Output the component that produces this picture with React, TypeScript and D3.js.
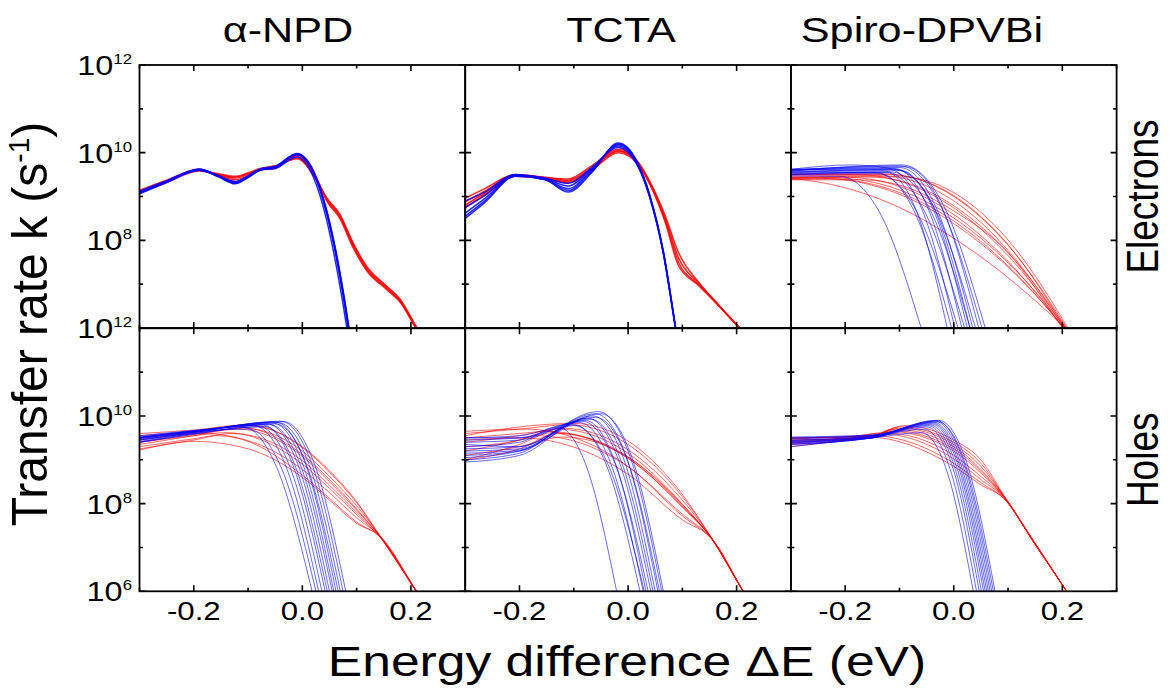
import React from "react";
import * as d3 from "d3";

type Knot = [number, number]; // [ΔE (eV), log10 k]

// ---------- labels and ticks ----------
const columnTitles = ["α-NPD", "TCTA", "Spiro-DPVBi"];
const columnTitleX = [288, 621, 922];
const rowTitles = ["Electrons", "Holes"];
const xTicks = [-0.2, 0.0, 0.2];
const xMinorTicks = [-0.3, -0.1, 0.1, 0.3];
const yTickExps = [6, 8, 10, 12];
const yMinorExps = [7, 9, 11];
const yLabelExpsTop = [12, 10, 8];
const yLabelExpsBottom = [12, 10, 8, 6];

// ---------- α-NPD, electrons (values on shared grids) ----------
const npdElecRedGrid = [-0.3, -0.25, -0.19, -0.155, -0.124, -0.1, -0.078, -0.05, -0.01, 0.027, 0.045, 0.069, 0.094, 0.119, 0.155, 0.18, 0.208, 0.23];
const npdElecRed = [
  [9.11, 9.34, 9.6, 9.5, 9.42, 9.5, 9.62, 9.66, 9.92, 9.38, 8.92, 8.54, 7.86, 7.33, 6.91, 6.61, 6.04, 5.6],
  [9.08, 9.32, 9.58, 9.52, 9.46, 9.52, 9.62, 9.68, 9.88, 9.36, 8.95, 8.57, 7.9, 7.37, 6.94, 6.63, 6.05, 5.6],
  [9.14, 9.37, 9.62, 9.48, 9.38, 9.47, 9.6, 9.64, 9.95, 9.4, 8.9, 8.5, 7.82, 7.3, 6.88, 6.59, 6.02, 5.6],
  [9.1, 9.35, 9.61, 9.5, 9.44, 9.54, 9.64, 9.7, 9.86, 9.35, 8.97, 8.6, 7.93, 7.4, 6.96, 6.66, 6.07, 5.6],
];
const npdElecBlueGrid = [-0.3, -0.25, -0.19, -0.155, -0.124, -0.1, -0.078, -0.05, -0.01, 0.02, 0.045, 0.065, 0.085, 0.1];
const npdElecBlue = [
  [9.09, 9.34, 9.62, 9.47, 9.32, 9.45, 9.62, 9.67, 9.97, 9.58, 8.65, 7.52, 6.04, 4.71],
  [9.06, 9.32, 9.6, 9.46, 9.3, 9.43, 9.6, 9.66, 9.95, 9.55, 8.6, 7.45, 5.95, 4.6],
  [9.12, 9.36, 9.63, 9.48, 9.34, 9.47, 9.63, 9.69, 9.98, 9.6, 8.68, 7.56, 6.08, 4.75],
  [9.1, 9.35, 9.6, 9.47, 9.33, 9.46, 9.6, 9.64, 9.9, 9.45, 8.45, 7.25, 5.75, 4.4],
  [9.08, 9.33, 9.61, 9.45, 9.29, 9.44, 9.61, 9.67, 9.96, 9.57, 8.63, 7.5, 6.02, 4.7],
];

// ---------- TCTA, electrons ----------
const tctaElecRedGrid = [-0.3, -0.264, -0.208, -0.153, -0.11, -0.067, -0.018, 0.019, 0.044, 0.068, 0.093, 0.129, 0.16, 0.2, 0.23];
const tctaElecRed = [
  [8.96, 9.18, 9.5, 9.44, 9.4, 9.7, 10.08, 9.78, 9.25, 8.58, 7.72, 7.06, 6.62, 6.08, 5.7],
  [8.88, 9.12, 9.49, 9.43, 9.37, 9.66, 10.05, 9.76, 9.22, 8.52, 7.6, 7.03, 6.61, 6.08, 5.7],
  [8.8, 9.08, 9.47, 9.42, 9.34, 9.63, 10.03, 9.74, 9.2, 8.47, 7.5, 7.0, 6.6, 6.07, 5.7],
  [8.74, 9.04, 9.46, 9.41, 9.31, 9.6, 10.0, 9.72, 9.18, 8.43, 7.42, 6.98, 6.6, 6.07, 5.7],
];
const tctaElecBlueGrid = [-0.3, -0.264, -0.208, -0.153, -0.11, -0.067, -0.018, 0.015, 0.04, 0.065, 0.087, 0.105];
const tctaElecBlue = [
  [8.9, 9.1, 9.5, 9.42, 9.3, 9.66, 10.12, 9.76, 8.98, 7.7, 6.02, 4.6],
  [8.75, 9.02, 9.49, 9.41, 9.24, 9.63, 10.15, 9.78, 8.99, 7.71, 6.03, 4.6],
  [8.62, 8.95, 9.48, 9.4, 9.18, 9.6, 10.18, 9.8, 9.0, 7.72, 6.04, 4.6],
  [8.55, 8.9, 9.47, 9.39, 9.14, 9.57, 10.2, 9.82, 9.02, 7.74, 6.05, 4.6],
  [8.5, 8.86, 9.46, 9.38, 9.1, 9.54, 10.22, 9.84, 9.04, 7.76, 6.06, 4.6],
];

// ---------- Spiro-DPVBi, electrons (knots) ----------
const spiroElecRed: Knot[][] = [
  [[-0.3, 9.52], [-0.12, 9.5], [0, 9.02], [0.1, 7.9], [0.205, 6], [0.245, 5.14]],
  [[-0.3, 9.47], [-0.14, 9.48], [0, 8.9], [0.1, 7.77], [0.203, 6], [0.243, 5.19]],
  [[-0.3, 9.44], [-0.16, 9.45], [-0.1, 9.36], [0, 8.79], [0.1, 7.72], [0.207, 6], [0.247, 5.25]],
  [[-0.3, 9.5], [-0.18, 9.5], [-0.1, 9.35], [0, 8.74], [0.1, 7.65], [0.205, 6], [0.245, 5.27]],
  [[-0.3, 9.43], [-0.2, 9.44], [-0.1, 9.23], [0, 8.59], [0.1, 7.52], [0.202, 6], [0.242, 5.32]],
  [[-0.3, 9.41], [-0.22, 9.42], [-0.1, 9.15], [0, 8.51], [0.1, 7.49], [0.206, 6], [0.246, 5.36]],
  [[-0.3, 9.41], [-0.25, 9.42], [-0.1, 9.05], [0, 8.38], [0.1, 7.39], [0.204, 6], [0.244, 5.4]],
  [[-0.3, 9.42], [-0.2, 9.2], [-0.1, 8.75], [0, 8.05], [0.1, 7.15], [0.205, 6], [0.245, 5.52]],
  [[-0.3, 9.44], [-0.1, 9.45], [0, 9.09], [0.1, 8.01], [0.21, 6], [0.25, 5.11]],
  [[-0.3, 9.5], [-0.13, 9.52], [0, 9.0], [0.1, 7.89], [0.208, 6], [0.248, 5.17]],
  [[-0.3, 9.38], [-0.17, 9.38], [-0.1, 9.26], [0, 8.67], [0.1, 7.72], [0.2, 6], [0.24, 5.27]],
  [[-0.3, 9.39], [-0.23, 9.4], [-0.1, 9.09], [0, 8.44], [0.1, 7.42], [0.203, 6], [0.243, 5.37]],
];
const spiroElecBlue: Knot[][] = [
  [[-0.3, 9.47], [-0.21, 9.46], [-0.135, 8.6], [-0.06, 6]],
  [[-0.3, 9.55], [-0.125, 9.55], [-0.0685, 8.66], [-0.012, 6]],
  [[-0.3, 9.5], [-0.14, 9.52], [-0.072, 8.64], [-0.004, 6]],
  [[-0.3, 9.62], [-0.12, 9.62], [-0.059, 8.72], [0.002, 6]],
  [[-0.3, 9.52], [-0.145, 9.55], [-0.0685, 8.66], [0.008, 6]],
  [[-0.3, 9.6], [-0.11, 9.64], [-0.0475, 8.73], [0.015, 6]],
  [[-0.3, 9.56], [-0.13, 9.58], [-0.055, 8.69], [0.02, 6]],
  [[-0.3, 9.58], [-0.1, 9.6], [-0.0375, 8.7], [0.025, 6]],
  [[-0.3, 9.5], [-0.115, 9.56], [-0.0425, 8.67], [0.03, 6]],
  [[-0.3, 9.6], [-0.1, 9.66], [-0.0325, 8.75], [0.035, 6]],
  [[-0.3, 9.55], [-0.11, 9.62], [-0.035, 8.72], [0.04, 6]],
  [[-0.3, 9.62], [-0.09, 9.68], [-0.022, 8.76], [0.046, 6]],
  [[-0.3, 9.6], [-0.1, 9.7], [-0.024, 8.78], [0.052, 6]],
  [[-0.3, 9.58], [-0.095, 9.72], [-0.0185, 8.79], [0.058, 6]],
  [[-0.3, 9.62], [-0.19, 9.72], [-0.1, 9.6], [-0.035, 8.7], [0.03, 6]],
];

// ---------- α-NPD, holes ----------
const npdHoleRed: Knot[][] = [
  [[-0.3, 9.45], [-0.2, 9.62], [-0.1, 9.78], [0, 9.3], [0.05, 8.75], [0.1, 8.05], [0.144, 7.24], [0.21, 6], [0.24, 5.44]],
  [[-0.3, 9.35], [-0.2, 9.55], [-0.11, 9.72], [0, 9.2], [0.05, 8.62], [0.1, 7.95], [0.144, 7.25], [0.21, 6.02], [0.24, 5.46]],
  [[-0.3, 9.55], [-0.2, 9.65], [-0.12, 9.75], [0, 9.12], [0.05, 8.55], [0.1, 7.88], [0.144, 7.23], [0.21, 6], [0.24, 5.44]],
  [[-0.3, 9.25], [-0.2, 9.45], [-0.13, 9.6], [0, 8.98], [0.05, 8.42], [0.1, 7.8], [0.144, 7.24], [0.21, 6.01], [0.24, 5.45]],
  [[-0.3, 9.4], [-0.2, 9.55], [-0.14, 9.62], [0, 8.9], [0.05, 8.35], [0.1, 7.75], [0.144, 7.22], [0.21, 5.99], [0.24, 5.43]],
  [[-0.3, 9.3], [-0.2, 9.48], [-0.16, 9.55], [0, 8.78], [0.05, 8.25], [0.1, 7.68], [0.144, 7.24], [0.21, 6], [0.24, 5.44]],
  [[-0.3, 9.5], [-0.18, 9.6], [-0.1, 9.42], [0, 8.65], [0.05, 8.12], [0.1, 7.58], [0.144, 7.23], [0.21, 6], [0.24, 5.44]],
  [[-0.3, 9.22], [-0.2, 9.42], [-0.1, 9.25], [0, 8.6], [0.05, 8.08], [0.1, 7.55], [0.144, 7.25], [0.21, 6.01], [0.24, 5.45]],
  [[-0.3, 9.6], [-0.2, 9.68], [-0.1, 9.8], [0, 9.28], [0.05, 8.72], [0.1, 8.02], [0.144, 7.24], [0.21, 6], [0.24, 5.44]],
  [[-0.3, 9.4], [-0.2, 9.58], [-0.12, 9.7], [0, 9.08], [0.05, 8.5], [0.1, 7.85], [0.144, 7.24], [0.21, 6], [0.24, 5.44]],
];
const npdHoleBlue: Knot[][] = [
  [[-0.3, 9.45], [-0.2, 9.62], [-0.112, 9.76], [-0.047, 8.82], [0.018, 6]],
  [[-0.3, 9.5], [-0.2, 9.64], [-0.1, 9.7], [-0.0375, 8.78], [0.025, 6]],
  [[-0.3, 9.5], [-0.2, 9.65], [-0.09, 9.78], [-0.03, 8.84], [0.03, 6]],
  [[-0.3, 9.4], [-0.2, 9.6], [-0.08, 9.75], [-0.022, 8.81], [0.036, 6]],
  [[-0.3, 9.52], [-0.2, 9.66], [-0.075, 9.8], [-0.0165, 8.85], [0.042, 6]],
  [[-0.3, 9.42], [-0.2, 9.6], [-0.07, 9.76], [-0.012, 8.82], [0.046, 6]],
  [[-0.3, 9.48], [-0.2, 9.64], [-0.065, 9.82], [-0.0075, 8.87], [0.05, 6]],
  [[-0.3, 9.55], [-0.2, 9.67], [-0.06, 9.8], [-0.0025, 8.85], [0.055, 6]],
  [[-0.3, 9.45], [-0.2, 9.62], [-0.055, 9.84], [0.0015, 8.88], [0.058, 6]],
  [[-0.3, 9.5], [-0.2, 9.64], [-0.05, 9.86], [0.006, 8.9], [0.062, 6]],
  [[-0.3, 9.4], [-0.2, 9.58], [-0.05, 9.82], [0.008, 8.87], [0.066, 6]],
  [[-0.3, 9.52], [-0.2, 9.66], [-0.045, 9.85], [0.0125, 8.89], [0.07, 6]],
  [[-0.3, 9.47], [-0.2, 9.63], [-0.04, 9.88], [0.0175, 8.91], [0.075, 6]],
  [[-0.3, 9.5], [-0.2, 9.65], [-0.035, 9.87], [0.0225, 8.9], [0.08, 6]],
];

// ---------- TCTA, holes ----------
const tctaHoleRed: Knot[][] = [
  [[-0.3, 9.6], [-0.2, 9.7], [-0.11, 9.8], [0, 9.35], [0.1, 8.16], [0.156, 7.17], [0.212, 6], [0.24, 5.44]],
  [[-0.3, 9.4], [-0.2, 9.55], [-0.12, 9.72], [0, 9.23], [0.1, 8.08], [0.156, 7.18], [0.212, 6.01], [0.24, 5.45]],
  [[-0.3, 9.2], [-0.2, 9.45], [-0.13, 9.7], [0, 9.15], [0.1, 7.99], [0.156, 7.16], [0.212, 6], [0.24, 5.44]],
  [[-0.3, 9.0], [-0.2, 9.35], [-0.14, 9.62], [0, 9.04], [0.1, 7.92], [0.156, 7.17], [0.212, 6], [0.24, 5.44]],
  [[-0.3, 9.5], [-0.2, 9.6], [-0.15, 9.65], [0, 9.03], [0.1, 7.93], [0.156, 7.18], [0.212, 6.01], [0.24, 5.45]],
  [[-0.3, 9.3], [-0.2, 9.45], [-0.17, 9.55], [0, 8.84], [0.1, 7.76], [0.156, 7.17], [0.212, 6], [0.24, 5.44]],
  [[-0.3, 9.65], [-0.19, 9.7], [-0.1, 9.51], [0, 8.85], [0.1, 7.72], [0.156, 7.16], [0.212, 6], [0.24, 5.44]],
  [[-0.3, 9.1], [-0.2, 9.3], [-0.12, 9.52], [0, 9.06], [0.1, 7.98], [0.156, 7.17], [0.212, 6], [0.24, 5.44]],
  [[-0.3, 9.45], [-0.2, 9.5], [-0.1, 9.29], [0, 8.67], [0.1, 7.63], [0.156, 7.18], [0.212, 6.01], [0.24, 5.45]],
  [[-0.3, 9.55], [-0.2, 9.75], [-0.1, 9.83], [0, 9.43], [0.1, 8.21], [0.156, 7.17], [0.212, 6], [0.24, 5.44]],
  [[-0.3, 8.99], [-0.2, 9.25], [-0.13, 9.6], [0, 9.07], [0.1, 7.95], [0.156, 7.17], [0.212, 6], [0.24, 5.44]],
];
const tctaHoleBlue: Knot[][] = [
  [[-0.3, 9.3], [-0.2, 9.4], [-0.13, 9.75], [-0.0755, 8.81], [-0.021, 6]],
  [[-0.3, 9.0], [-0.2, 9.15], [-0.1, 9.8], [-0.039, 8.85], [0.022, 6]],
  [[-0.3, 9.5], [-0.2, 9.55], [-0.09, 9.85], [-0.031, 8.89], [0.028, 6]],
  [[-0.3, 9.1], [-0.2, 9.2], [-0.08, 9.9], [-0.0235, 8.93], [0.033, 6]],
  [[-0.3, 9.35], [-0.2, 9.3], [-0.085, 9.88], [-0.024, 8.91], [0.037, 6]],
  [[-0.3, 8.95], [-0.2, 9.1], [-0.075, 9.95], [-0.0165, 8.96], [0.042, 6]],
  [[-0.3, 9.4], [-0.2, 9.45], [-0.07, 9.93], [-0.012, 8.95], [0.046, 6]],
  [[-0.3, 9.2], [-0.2, 9.25], [-0.065, 10.0], [-0.0075, 9.0], [0.05, 6]],
  [[-0.3, 9.05], [-0.2, 9.2], [-0.06, 10.05], [-0.0025, 9.04], [0.055, 6]],
  [[-0.3, 9.45], [-0.2, 9.5], [-0.06, 9.97], [-0.001, 8.98], [0.058, 6]],
  [[-0.3, 9.25], [-0.2, 9.3], [-0.055, 10.1], [0.0035, 9.08], [0.062, 6]],
  [[-0.3, 9.15], [-0.2, 9.22], [-0.05, 10.05], [0.0075, 9.04], [0.065, 6]],
  [[-0.3, 9.5], [-0.2, 9.5], [-0.1, 9.78], [-0.035, 8.84], [0.03, 6]],
];

// ---------- Spiro-DPVBi, holes ----------
const spiroHoleRed: Knot[][] = [
  [[-0.3, 9.5], [-0.15, 9.55], [-0.1, 9.75], [0, 9.4], [0.05, 8.92], [0.092, 8.18], [0.15, 7.09], [0.208, 6], [0.24, 5.4]],
  [[-0.3, 9.4], [-0.15, 9.5], [-0.11, 9.7], [0, 9.3], [0.05, 8.78], [0.092, 8.17], [0.15, 7.08], [0.208, 6], [0.24, 5.4]],
  [[-0.3, 9.45], [-0.15, 9.52], [-0.12, 9.65], [0, 9.2], [0.05, 8.7], [0.092, 8.16], [0.15, 7.08], [0.208, 6], [0.24, 5.4]],
  [[-0.3, 9.35], [-0.2, 9.45], [-0.13, 9.62], [0, 9.1], [0.05, 8.62], [0.092, 8.15], [0.15, 7.07], [0.208, 6], [0.24, 5.4]],
  [[-0.3, 9.5], [-0.15, 9.55], [-0.1, 9.72], [0, 9.35], [0.05, 8.85], [0.092, 8.18], [0.15, 7.09], [0.208, 6], [0.24, 5.4]],
  [[-0.3, 9.42], [-0.2, 9.5], [-0.14, 9.6], [0, 9.02], [0.05, 8.55], [0.092, 8.14], [0.15, 7.07], [0.208, 6], [0.24, 5.4]],
  [[-0.3, 9.38], [-0.2, 9.48], [-0.15, 9.55], [0, 8.92], [0.05, 8.48], [0.092, 8.12], [0.15, 7.07], [0.208, 6], [0.24, 5.4]],
  [[-0.3, 9.48], [-0.15, 9.56], [-0.09, 9.78], [0, 9.45], [0.05, 9.0], [0.092, 8.2], [0.15, 7.1], [0.208, 6], [0.24, 5.4]],
  [[-0.3, 9.3], [-0.2, 9.45], [-0.16, 9.52], [0, 8.85], [0.05, 8.43], [0.092, 8.12], [0.15, 7.06], [0.208, 6], [0.24, 5.4]],
  [[-0.3, 9.45], [-0.15, 9.5], [-0.12, 9.68], [0, 9.25], [0.05, 8.74], [0.092, 8.16], [0.15, 7.08], [0.208, 6], [0.24, 5.4]],
];
const spiroHoleBlue: Knot[][] = [
  [[-0.3, 9.3], [-0.15, 9.5], [-0.06, 9.62], [-0.012, 8.72], [0.036, 6]],
  [[-0.3, 9.4], [-0.15, 9.52], [-0.055, 9.7], [-0.0065, 8.78], [0.042, 6]],
  [[-0.3, 9.35], [-0.15, 9.5], [-0.05, 9.75], [-0.0015, 8.81], [0.047, 6]],
  [[-0.3, 9.45], [-0.15, 9.54], [-0.048, 9.78], [0.0015, 8.84], [0.051, 6]],
  [[-0.3, 9.38], [-0.15, 9.5], [-0.045, 9.8], [0.005, 8.85], [0.055, 6]],
  [[-0.3, 9.5], [-0.15, 9.56], [-0.042, 9.82], [0.008, 8.87], [0.058, 6]],
  [[-0.3, 9.42], [-0.15, 9.52], [-0.04, 9.84], [0.0105, 8.88], [0.061, 6]],
  [[-0.3, 9.36], [-0.15, 9.5], [-0.038, 9.86], [0.013, 8.9], [0.064, 6]],
  [[-0.3, 9.48], [-0.15, 9.55], [-0.035, 9.88], [0.016, 8.91], [0.067, 6]],
  [[-0.3, 9.4], [-0.15, 9.52], [-0.033, 9.9], [0.0185, 8.93], [0.07, 6]],
  [[-0.3, 9.52], [-0.15, 9.57], [-0.03, 9.87], [0.0215, 8.9], [0.073, 6]],
  [[-0.3, 9.44], [-0.15, 9.53], [-0.028, 9.9], [0.024, 8.93], [0.076, 6]],
];

// ---------- layout ----------
const W = 1174;
const H = 690;
const plotLeft = 139.5;
const panelW = 325.7;
const rowTop = [65, 328.3];
const panelH = 263;
const FONT = "'Liberation Sans', Arial, Helvetica, sans-serif";
const STRETCH = 1.2; // glyphs in the original are drawn wider than normal

const zip = (grid: number[], vals: number[]): Knot[] => grid.map((g, i) => [g, vals[i]]);

const panels = [
  { row: 0, col: 0, red: npdElecRed.map((v) => zip(npdElecRedGrid, v)), blue: npdElecBlue.map((v) => zip(npdElecBlueGrid, v)), tight: true },
  { row: 0, col: 1, red: tctaElecRed.map((v) => zip(tctaElecRedGrid, v)), blue: tctaElecBlue.map((v) => zip(tctaElecBlueGrid, v)), tight: true },
  { row: 0, col: 2, red: spiroElecRed, blue: spiroElecBlue, tight: false },
  { row: 1, col: 0, red: npdHoleRed, blue: npdHoleBlue, tight: false },
  { row: 1, col: 1, red: tctaHoleRed, blue: tctaHoleBlue, tight: false },
  { row: 1, col: 2, red: spiroHoleRed, blue: spiroHoleBlue, tight: false },
];

const Panel = ({ p, idx }: { p: (typeof panels)[number]; idx: number }) => {
  const x0 = plotLeft + p.col * panelW;
  const y0 = rowTop[p.row];
  const x = d3.scaleLinear().domain([-0.3, 0.3]).range([x0, x0 + panelW]);
  const y = d3.scaleLog().domain([1e6, 1e12]).range([y0 + panelH, y0]);
  const line = d3
    .line<Knot>()
    .x((d) => x(d[0]))
    .y((d) => y(Math.pow(10, d[1])))
    .curve(d3.curveMonotoneX);
  const clipId = `clip-${idx}`;
  const sw = p.tight ? 1.5 : 0.85;
  const op = p.tight ? 0.85 : 0.7;

  const major = 6;
  const minor = 3.5;
  const tickPaths: string[] = [];
  xTicks.forEach((t) => {
    tickPaths.push(`M${x(t)},${y0 + panelH}v${-major}M${x(t)},${y0}v${major}`);
  });
  xMinorTicks.forEach((t) => {
    tickPaths.push(`M${x(t)},${y0 + panelH}v${-minor}M${x(t)},${y0}v${minor}`);
  });
  yTickExps.forEach((e) => {
    const yy = y(Math.pow(10, e));
    tickPaths.push(`M${x0},${yy}h${major}M${x0 + panelW},${yy}h${-major}`);
  });
  yMinorExps.forEach((e) => {
    const yy = y(Math.pow(10, e));
    tickPaths.push(`M${x0},${yy}h${minor}M${x0 + panelW},${yy}h${-minor}`);
  });

  return (
    <g>
      <defs>
        <clipPath id={clipId}>
          <rect x={x0} y={y0} width={panelW} height={panelH} />
        </clipPath>
      </defs>
      <g clipPath={`url(#${clipId})`} fill="none">
        {p.red.map((c, i) => (
          <path key={`r${i}`} d={line(c) ?? ""} stroke="#ff0000" strokeWidth={sw} strokeOpacity={op} />
        ))}
        {p.blue.map((c, i) => (
          <path key={`b${i}`} d={line(c) ?? ""} stroke="#0000ff" strokeWidth={sw} strokeOpacity={op} />
        ))}
      </g>
      <rect x={x0} y={y0} width={panelW} height={panelH} fill="none" stroke="#000" strokeWidth={1.8} />
      <path d={tickPaths.join("")} stroke="#000" strokeWidth={1.6} fill="none" />
      {p.row === 1 &&
        xTicks.map((t) => (
          <g key={t} transform={`translate(${x(t)},${y0 + panelH + 29}) scale(${STRETCH},1)`}>
            <text textAnchor="middle" fontSize={26} fontFamily={FONT} fill="#000">
              {d3.format(".1f")(t).replace("−", "-")}
            </text>
          </g>
        ))}
      {p.col === 0 &&
        (p.row === 0 ? yLabelExpsTop : yLabelExpsBottom).map((e) => (
          <g key={e} transform={`translate(132,${y(Math.pow(10, e)) + 10}) scale(${STRETCH},1)`}>
            <text textAnchor="end" fontSize={27} fontFamily={FONT} fill="#000">
              10
              <tspan dy={-11} fontSize={14}>
                {e}
              </tspan>
            </text>
          </g>
        ))}
    </g>
  );
};

export default function App() {
  return (
    <svg
      width={W}
      height={H}
      viewBox={`0 0 ${W} ${H}`}
      style={{ position: "absolute", left: 0, top: 0, background: "#fff" }}
    >
      {panels.map((p, i) => (
        <Panel key={i} p={p} idx={i} />
      ))}
      {columnTitles.map((t, i) => (
        <g key={t} transform={`translate(${columnTitleX[i]},42) scale(${STRETCH},1)`}>
          <text textAnchor="middle" fontSize={36} fontFamily={FONT} fill="#000">
            {t}
          </text>
        </g>
      ))}
      {rowTitles.map((t, i) => (
        <g key={t} transform={`translate(1158,${rowTop[i] + panelH / 2}) rotate(-90) scale(1,${STRETCH})`}>
          <text textAnchor="middle" fontSize={37} fontFamily={FONT} fill="#000">
            {t}
          </text>
        </g>
      ))}
      <g transform={`translate(47,324) rotate(-90) scale(1,1.05)`}>
        <text textAnchor="middle" fontSize={48} fontFamily={FONT} fill="#000">
          Transfer rate k (s<tspan dy={-17} fontSize={28}>-1</tspan>
          <tspan dy={17}>)</tspan>
        </text>
      </g>
      <g transform={`translate(627,676) scale(${STRETCH},1)`}>
        <text textAnchor="middle" fontSize={43} fontFamily={FONT} fill="#000">
          Energy difference ΔE (eV)
        </text>
      </g>
    </svg>
  );
}
